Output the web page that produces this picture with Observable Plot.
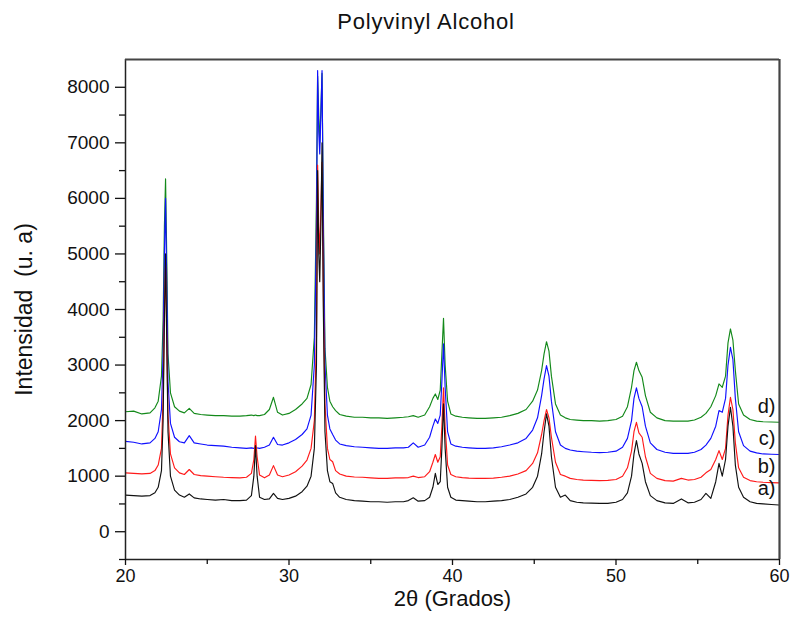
<!DOCTYPE html>
<html><head><meta charset="utf-8">
<script src="https://cdn.jsdelivr.net/npm/d3@7"></script>
<script src="https://cdn.jsdelivr.net/npm/@observablehq/plot@0.6"></script>
<style>
body{margin:0;background:#fff;font-family:"Liberation Sans",Arial,sans-serif;}
#title{position:relative;height:40px;}
#title span{position:absolute;left:426px;top:22px;transform:translate(-50%,-50%);font-size:22px;color:#111;white-space:nowrap;letter-spacing:0.8px;}
</style></head><body>
<div id="title"><span>Polyvinyl Alcohol</span></div>
<div id="chart"></div>
<script>
// 2θ angles (degrees), shared by all four patterns
const angle = [
  20.0, 20.5, 21.0, 21.5, 21.8, 22.0, 22.2, 22.3, 22.38, 22.45,
  22.52, 22.6, 22.75, 23.0, 23.3, 23.6, 23.9, 24.2, 24.6, 25.0,
  25.5, 26.0, 26.5, 27.0, 27.4, 27.7, 27.85, 27.95, 28.05, 28.2,
  28.5, 28.8, 29.05, 29.3, 29.6, 30.0, 30.4, 30.8, 31.1, 31.35,
  31.55, 31.68, 31.75, 31.82, 31.88, 31.95, 32.02, 32.1, 32.2, 32.35,
  32.5, 32.67, 32.85, 33.1, 33.5, 34.0, 34.5, 35.0, 35.5, 36.0,
  36.5, 37.0, 37.3, 37.6, 37.9, 38.3, 38.6, 38.8, 38.95, 39.1,
  39.25, 39.35, 39.45, 39.55, 39.7, 39.9, 40.2, 40.6, 41.0, 41.5,
  42.0, 42.5, 43.0, 43.5, 44.0, 44.5, 44.9, 45.2, 45.45, 45.6,
  45.75, 45.9, 46.05, 46.3, 46.6, 46.9, 47.2, 47.6, 48.0, 48.5,
  49.0, 49.5, 50.0, 50.4, 50.7, 50.95, 51.1, 51.25, 51.4, 51.6,
  51.8, 52.1, 52.5, 53.0, 53.5, 54.0, 54.4, 54.8, 55.2, 55.5,
  55.8, 56.1, 56.3, 56.5, 56.7, 56.85, 57.0, 57.15, 57.3, 57.5,
  57.8, 58.2, 58.6, 59.0, 59.5, 60.0
];
// a) black
const intensityA = [
  660, 650, 640, 650, 700, 800, 1100, 2000, 3800, 5000,
  3500, 1800, 1000, 750, 660, 620, 680, 610, 590, 580,
  570, 580, 560, 560, 570, 650, 1000, 1550, 1000, 620,
  580, 590, 690, 600, 580, 600, 640, 720, 820, 1000,
  1500, 3000, 6500, 5000, 4500, 5500, 7000, 4000, 1800, 1100,
  900, 870, 700, 620, 580, 560, 550, 540, 540, 530,
  540, 540, 560, 610, 550, 560, 620, 800, 1050, 850,
  900, 1500, 2300, 1500, 800, 620, 570, 560, 550, 540,
  540, 550, 560, 580, 620, 680, 800, 1000, 1400, 1800,
  2120, 1900, 1350, 800, 620, 660, 560, 530, 520, 515,
  510, 510, 530, 580, 700, 1000, 1400, 1640, 1400, 1230,
  900, 650, 560, 520, 510, 590, 520, 530, 580, 690,
  600, 900, 1230, 1000, 1300, 1900, 2240, 1900, 1200, 800,
  620, 540, 510, 500, 490, 480
];
// b) red
const intensityB = [
  1060, 1050, 1040, 1050, 1100, 1200, 1500, 2400, 4000, 4800,
  3500, 2100, 1400, 1150, 1060, 1030, 1120, 1030, 1010, 1000,
  990, 980, 975, 970, 980, 1050, 1300, 1720, 1350, 1020,
  970, 1020, 1190, 1020, 990, 1020, 1080, 1180, 1290, 1500,
  2000, 3500, 6600, 5500, 5000, 5800, 6650, 4300, 2300, 1500,
  1300, 1260, 1100, 1040, 1000, 985, 980, 970, 960, 960,
  970, 970, 975, 1000, 975, 990, 1080, 1250, 1390, 1250,
  1350, 1900, 2590, 1900, 1200, 1030, 990, 975, 965, 960,
  960, 965, 980, 1000, 1040, 1100, 1230, 1420, 1750, 2000,
  2200, 2050, 1700, 1250, 1030, 1000, 960, 940, 930, 925,
  920, 925, 940, 1000, 1150, 1450, 1800, 1970, 1780, 1700,
  1350, 1050, 960, 920, 910, 960, 930, 940, 980, 1060,
  1120, 1300, 1460, 1300, 1500, 2100, 2420, 2200, 1600, 1150,
  980, 920, 900, 890, 885, 880
];
// c) blue
const intensityC = [
  1625, 1610, 1580, 1600, 1680, 1800, 2200, 3200, 5000, 6000,
  4500, 2700, 1950, 1700, 1620, 1600, 1730, 1600, 1580, 1560,
  1550, 1540, 1520, 1510, 1500, 1510, 1500, 1520, 1510, 1500,
  1520, 1560, 1700, 1570, 1560, 1600, 1660, 1750, 1850, 2100,
  3000, 5500, 8300, 7200, 6800, 7500, 8300, 5500, 3000, 2100,
  1850, 1750, 1650, 1580, 1550, 1530, 1520, 1510, 1500, 1500,
  1510, 1510, 1520, 1600, 1520, 1560, 1700, 1900, 2030, 1950,
  2100, 2700, 3380, 2600, 1800, 1580, 1540, 1520, 1510, 1500,
  1500, 1510, 1530, 1560, 1600, 1680, 1830, 2050, 2450, 2750,
  2990, 2800, 2350, 1800, 1560, 1500, 1470, 1450, 1440, 1430,
  1425, 1430, 1450, 1520, 1680, 2000, 2400, 2590, 2400, 2250,
  1900, 1600, 1480, 1430, 1410, 1410, 1410, 1430, 1480, 1560,
  1680, 1900, 2180, 2150, 2400, 3000, 3320, 3100, 2400, 1800,
  1550, 1450, 1420, 1400, 1395, 1390
];
// d) green
const intensityD = [
  2160, 2170, 2120, 2140, 2230, 2350, 2800, 3800, 5500, 6350,
  5000, 3200, 2500, 2250, 2170, 2140, 2220, 2130, 2110, 2100,
  2090, 2090, 2080, 2080, 2090, 2100, 2090, 2100, 2090, 2090,
  2110, 2200, 2420, 2150, 2100, 2130, 2200, 2300, 2400, 2650,
  3500, 6000, 8200, 7500, 7000, 7600, 8250, 5800, 3300, 2600,
  2350, 2250, 2180, 2110, 2080, 2060, 2060, 2050, 2050, 2040,
  2050, 2060, 2070, 2090, 2060, 2100, 2250, 2400, 2480, 2380,
  2550, 3200, 3840, 3000, 2350, 2120, 2080, 2060, 2050, 2040,
  2040, 2050, 2060, 2090, 2130, 2200, 2350, 2550, 2900, 3200,
  3420, 3250, 2800, 2300, 2100, 2050, 2020, 2010, 2000, 2000,
  1990, 2000, 2020, 2080, 2250, 2600, 2900, 3050, 2900, 2780,
  2450, 2150, 2050, 2000, 1990, 1990, 1990, 2010, 2060, 2130,
  2250, 2450, 2660, 2600, 2800, 3400, 3650, 3450, 2900, 2300,
  2100, 2020, 1990, 1980, 1975, 1970
];
const seriesNames = ["d)", "c)", "b)", "a)"];
const seriesColors = ["#13891a", "#1010ff", "#ff1a1a", "#111111"];
const seriesValues = [intensityD, intensityC, intensityB, intensityA];
const yMajorTicks = [0, 1000, 2000, 3000, 4000, 5000, 6000, 7000, 8000];
const yMinorTicks = [-500, 500, 1500, 2500, 3500, 4500, 5500, 6500, 7500];
const xMajorTicks = [20, 30, 40, 50, 60];
const xMinorTicks = [25, 35, 45, 55];
const xLabel = "2\u03b8 (Grados)";
const yLabel = "Intensidad  (u. a)";

const rows = seriesNames.flatMap((name, i) =>
  angle.map((a, j) => ({series: name, angle: a, intensity: seriesValues[i][j]})));
const ends = seriesNames.map((name, i) => ({series: name, last: seriesValues[i][seriesValues[i].length - 1]}));

const font = "'Liberation Sans', Arial, sans-serif";
const chart = Plot.plot({
  width: 794, height: 588,
  marginTop: 19, marginBottom: 69, marginLeft: 125, marginRight: 15,
  style: {fontFamily: font, fontSize: "18px", color: "#111", background: "#fff"},
  x: {domain: [20, 60]},
  y: {domain: [-500, 8500]},
  color: {domain: seriesNames, range: seriesColors},
  marks: [
    Plot.line(rows, {x: "angle", y: "intensity", z: "series", stroke: "series", strokeWidth: 1.15, clip: true}),
    Plot.ruleX([20], {stroke: "#222", strokeWidth: 1.5}),
    Plot.ruleY([-500], {stroke: "#222", strokeWidth: 1.5}),
    Plot.ruleX([60], {stroke: "#444", strokeWidth: 2.2}),
    Plot.ruleY([8500], {stroke: "#444", strokeWidth: 2.2}),
    Plot.axisY(yMajorTicks, {tickSize: 10, tickPadding: 6, strokeWidth: 1.3, label: null, fontSize: 19, tickFormat: d3.format("d")}),
    Plot.axisY(yMinorTicks, {tickSize: 6, strokeWidth: 1.3, text: null, label: null}),
    Plot.axisX(xMajorTicks, {tickSize: 6, tickPadding: 4, strokeWidth: 1.3, label: null, fontSize: 18, tickFormat: d3.format("d")}),
    Plot.axisX(xMinorTicks, {tickSize: 5, strokeWidth: 1.3, text: null, label: null}),
    Plot.text(ends, {x: 60, y: d => d.last + 290, text: "series", textAnchor: "end", dx: -4, fontSize: 20, fill: "#111"}),
    Plot.text([xLabel], {frameAnchor: "bottom", dy: 46, fontSize: 22, fill: "#111", letterSpacing: "0.4px"}),
    Plot.text([yLabel], {frameAnchor: "left", textAnchor: "middle", dx: -101, rotate: -90, fontSize: 23, fill: "#111", letterSpacing: "0.3px"})
  ]
});
document.getElementById("chart").appendChild(chart);
</script></body></html>
